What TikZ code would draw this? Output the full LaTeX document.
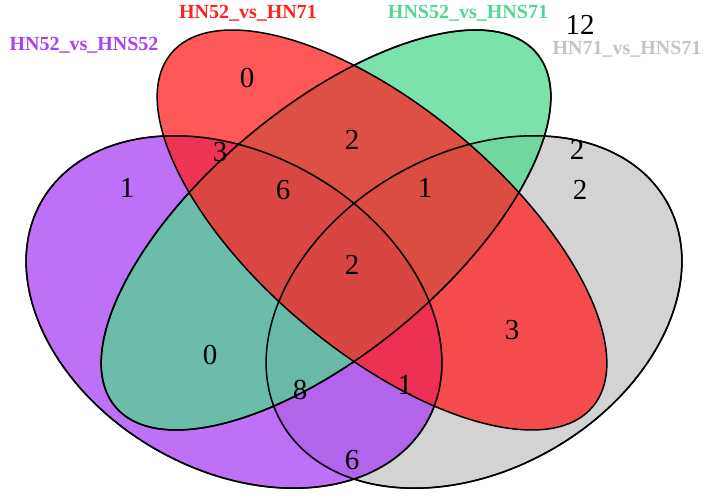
\documentclass[tikz,border=0pt]{standalone}
\usepackage{fontspec}
\setmainfont{Liberation Serif}
\begin{document}
\begin{tikzpicture}[x=1pt,y=1pt,
  set/.style={draw=black,line width=1.5pt,fill opacity=0.75},
  num/.style={font=\fontsize{29}{29}\selectfont},
  ttl/.style={font=\bfseries\fontsize{20}{20}\selectfont}]
\useasboundingbox (0,0) rectangle (708,502);
\definecolor{cpur}{HTML}{A840F4}
\definecolor{cred}{HTML}{FF2020}
\definecolor{cgrn}{HTML}{50D890}
\definecolor{cgry}{HTML}{C4C4C4}
\path[set,fill=cgry] (474,190) ellipse [x radius=222,y radius=158,rotate=30];
\path[set,fill=cpur] (234,190) ellipse [x radius=222,y radius=158,rotate=-30];
\path[set,fill=cgrn] (326,272) ellipse [x radius=275,y radius=122,rotate=40];
\path[set,fill=cred] (382,272) ellipse [x radius=275,y radius=122,rotate=-40];
\draw[line width=1.5pt] (474,190) ellipse [x radius=222,y radius=158,rotate=30];
\draw[line width=1.5pt] (234,190) ellipse [x radius=222,y radius=158,rotate=-30];
\draw[line width=1.5pt] (326,272) ellipse [x radius=275,y radius=122,rotate=40];
\node[num] (a1) at (127,314) {1};
\node[num] (a2) at (247,424) {0};
\node[num] (a3) at (220,350) {3};
\node[num] (a4) at (283,312) {6};
\node[num] (a5) at (352,362) {2};
\node[num] (a6) at (580,477) {12};
\node[num] (a7) at (577,352) {2};
\node[num] (a8) at (425,314) {1};
\node[num] (a9) at (352,237) {2};
\node[num] (a10) at (210,147) {0};
\node[num] (a11) at (300,112) {8};
\node[num] (a12) at (405,117) {1};
\node[num] (a13) at (512,172) {3};
\node[num] (a14) at (352,42) {6};
\node[num] (a15) at (580,312) {2};
\node[ttl,text=cpur] (t1) at (84,457) {HN52\_vs\_HNS52};
\node[ttl,text=cred] (t2) at (248,489) {HN52\_vs\_HN71};
\node[ttl,text=cgrn] (t3) at (468,489) {HNS52\_vs\_HNS71};
\node[ttl,text=cgry] (t4) at (627,453) {HN71\_vs\_HNS71};
\end{tikzpicture}
\end{document}
